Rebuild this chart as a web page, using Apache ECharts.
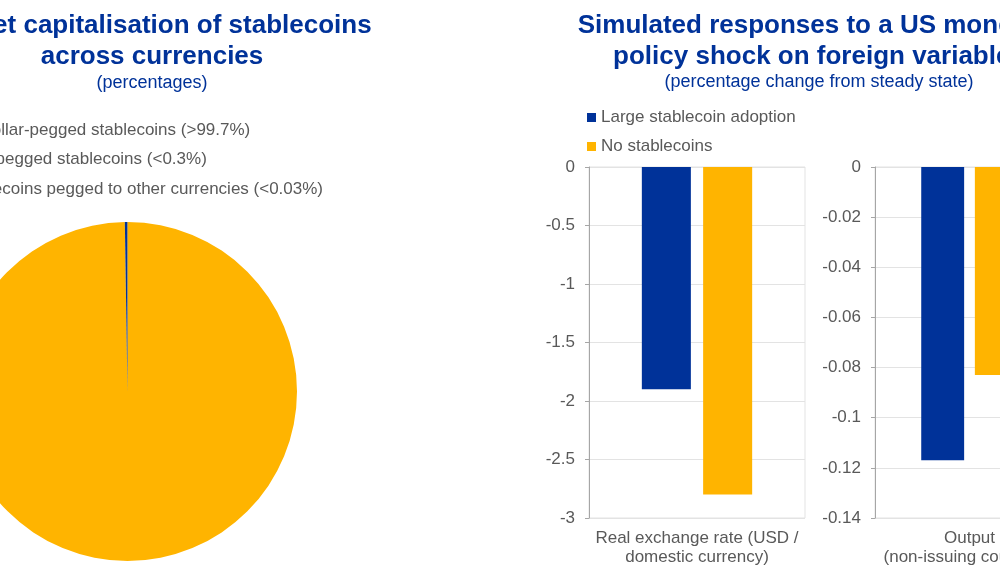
<!DOCTYPE html>
<html>
<head>
<meta charset="utf-8">
<script src="https://cdn.jsdelivr.net/npm/echarts@6/dist/echarts.min.js"></script>
<style>
  html, body { margin: 0; padding: 0; background: #fff; }
  #main { width: 1000px; height: 582px; }
</style>
</head>
<body>
<div id="main"></div>
<script>
// pie: share of market capitalisation
const pieNames = [
    'US dollar-pegged stablecoins (>99.7%)',
    'Euro-pegged stablecoins (<0.3%)',
    'Stablecoins pegged to other currencies (<0.03%)'
]
const pieValues = [99.75, 0.22, 0.03]
const pieColors = ['#FFB400', '#003299', '#333333']

// bars: simulated responses
const seriesNames = ['Large stablecoin adoption', 'No stablecoins']
const exchangeCategory = ['Real exchange rate (USD /\ndomestic currency)']
const outputCategory = ['Output\n(non-issuing countries)']
const largeAdoption = [-1.9, -0.117]
const noStablecoins = [-2.8, -0.083]

const blue = '#003299'
const yellow = '#FFB400'
const grey = '#595959'
const font = 'Liberation Sans, Arial, sans-serif'

const myChart = echarts.init(document.getElementById('main'))

const yAxisCommon = {
    type: 'value',
    axisLine: {show: true, lineStyle: {color: '#a6a6a6'}},
    axisTick: {show: true, length: 4, lineStyle: {color: '#a6a6a6'}},
    axisLabel: {color: grey, fontSize: 17, fontFamily: font, margin: 14},
    splitLine: {lineStyle: {color: '#e3e3e3'}}
}
const xAxisCommon = {
    type: 'category',
    position: 'bottom',
    axisLine: {show: false},
    axisTick: {show: false},
    axisLabel: {color: grey, fontSize: 17, fontFamily: font, lineHeight: 19, margin: 11, interval: 0}
}

const option = {
    animation: false,
    title: [
        {
            text: 'Market capitalisation of stablecoins\nacross currencies',
            subtext: '(percentages)',
            left: 152,
            top: 10,
            textAlign: 'center',
            padding: 0,
            itemGap: 1,
            textStyle: {color: blue, fontSize: 26, fontWeight: 'bold', fontFamily: font, lineHeight: 31},
            subtextStyle: {color: blue, fontSize: 18, fontFamily: font, lineHeight: 20}
        },
        {
            text: 'Simulated responses to a US monetary\npolicy shock on foreign variables',
            subtext: '(percentage change from steady state)',
            left: 819,
            top: 10,
            textAlign: 'center',
            padding: 0,
            itemGap: 0,
            textStyle: {color: blue, fontSize: 26, fontWeight: 'bold', fontFamily: font, lineHeight: 31},
            subtextStyle: {color: blue, fontSize: 18, fontFamily: font, lineHeight: 20}
        }
    ],
    legend: [
        {
            data: pieNames,
            orient: 'vertical',
            left: -60,
            top: 121.5,
            icon: 'rect',
            itemWidth: 9,
            itemHeight: 9,
            itemGap: 12.5,
            padding: 0,
            textStyle: {color: grey, fontSize: 17, fontFamily: font, lineHeight: 17}
        },
        {
            data: seriesNames,
            orient: 'vertical',
            left: 587,
            top: 109,
            icon: 'rect',
            itemWidth: 9,
            itemHeight: 9,
            itemGap: 12,
            padding: 0,
            textStyle: {color: grey, fontSize: 17, fontFamily: font, lineHeight: 17}
        }
    ],
    grid: [
        {left: 589, top: 167, width: 216, height: 351, outerBoundsMode: 'none', show: true, borderColor: '#e3e3e3', borderWidth: 1},
        {left: 875, top: 167, width: 189, height: 351, outerBoundsMode: 'none', show: true, borderColor: '#e3e3e3', borderWidth: 1}
    ],
    xAxis: [
        {...xAxisCommon, gridIndex: 0, data: exchangeCategory},
        {...xAxisCommon, gridIndex: 1, data: outputCategory}
    ],
    yAxis: [
        {...yAxisCommon, gridIndex: 0, min: -3, max: 0, interval: 0.5},
        {...yAxisCommon, gridIndex: 1, min: -0.14, max: 0, interval: 0.02}
    ],
    series: [
        {
            type: 'pie',
            center: [127.5, 391.5],
            radius: 169.5,
            startAngle: 90,
            clockwise: true,
            label: {show: false},
            labelLine: {show: false},
            itemStyle: {borderWidth: 0},
            data: pieNames.map((name, i) => ({
                name: name,
                value: pieValues[i],
                itemStyle: {color: pieColors[i]}
            }))
        },
        {
            name: seriesNames[0], type: 'bar', xAxisIndex: 0, yAxisIndex: 0,
            barWidth: '22.7%', barGap: '25%', itemStyle: {color: blue},
            data: [largeAdoption[0]]
        },
        {
            name: seriesNames[1], type: 'bar', xAxisIndex: 0, yAxisIndex: 0,
            barWidth: '22.7%', barGap: '25%', itemStyle: {color: yellow},
            data: [noStablecoins[0]]
        },
        {
            name: seriesNames[0], type: 'bar', xAxisIndex: 1, yAxisIndex: 1,
            barWidth: '22.7%', barGap: '25%', itemStyle: {color: blue},
            data: [largeAdoption[1]]
        },
        {
            name: seriesNames[1], type: 'bar', xAxisIndex: 1, yAxisIndex: 1,
            barWidth: '22.7%', barGap: '25%', itemStyle: {color: yellow},
            data: [noStablecoins[1]]
        }
    ]
}
myChart.setOption(option)
</script>
</body>
</html>
